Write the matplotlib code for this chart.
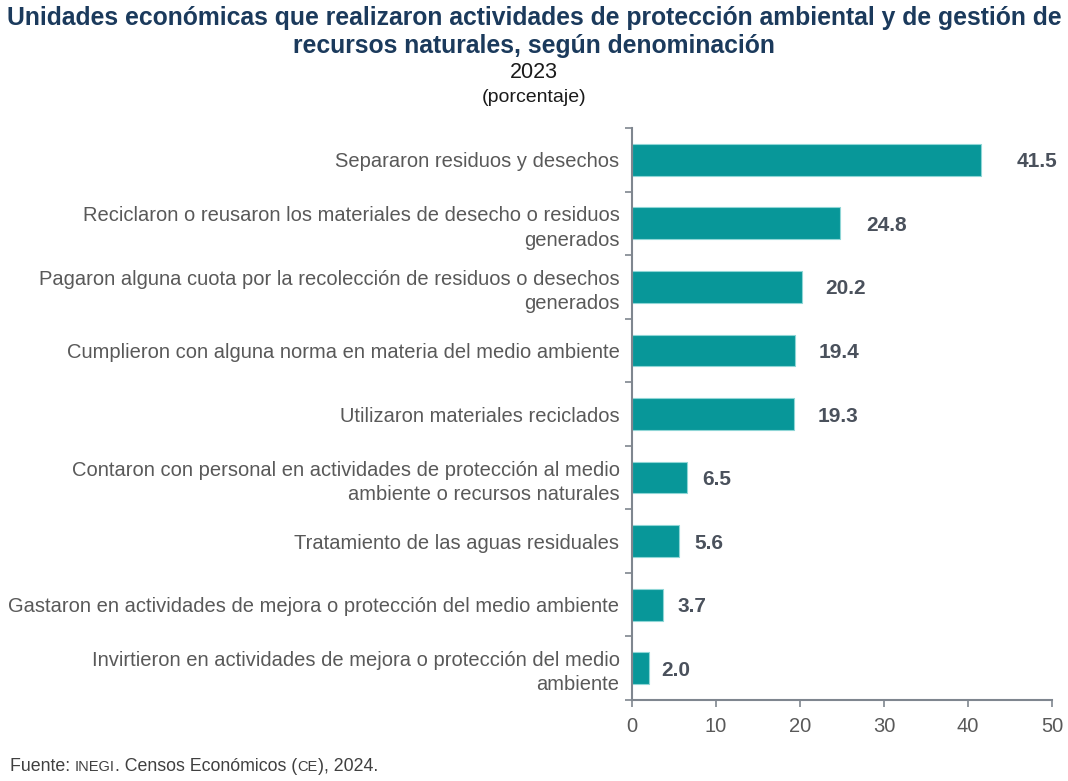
import matplotlib
matplotlib.use("Agg")
import matplotlib.pyplot as plt

categories = [
    "Separaron residuos y desechos",
    "Reciclaron o reusaron los materiales de desecho o residuos\ngenerados",
    "Pagaron alguna cuota por la recolección de residuos o desechos\ngenerados",
    "Cumplieron con alguna norma en materia del medio ambiente",
    "Utilizaron materiales reciclados",
    "Contaron con personal en actividades de protección al medio\nambiente o recursos naturales",
    "Tratamiento de las aguas residuales",
    "Gastaron en actividades de mejora o protección del medio ambiente",
    "Invirtieron en actividades de mejora o protección del medio\nambiente",
]
values = [41.5, 24.8, 20.2, 19.4, 19.3, 6.5, 5.6, 3.7, 2.0]
xticks = [0, 10, 20, 30, 40, 50]

plt.rcParams['font.family'] = ['Liberation Sans', 'DejaVu Sans']

fig = plt.figure(figsize=(10.68, 7.81), dpi=100)
ax = fig.add_axes([632/1068, 1-700/781, 420/1068, 572/781])

n = len(categories)
ypos = list(range(n))
ax.barh(ypos, values, height=0.5, color='#089799', edgecolor='#8FD6D6', linewidth=0.8)
ax.set_ylim(n - 0.5, -0.5)
ax.set_xlim(0, 50)
ax.set_xticks(xticks)
ax.set_xticklabels([str(t) for t in xticks], fontsize=14.5, color='#595959')
ax.set_yticks(ypos)
ax.set_yticklabels(categories, fontsize=14.5, color='#595959', linespacing=1.35)
ax.tick_params(axis='y', length=0, pad=9)
ax.set_yticks([i - 0.5 for i in range(n + 1)], minor=True)
ax.tick_params(axis='y', which='minor', length=5, color='#7F868F', width=1.2)
ax.tick_params(axis='x', length=5, color='#7F868F', width=1.2, pad=7)
for s in ['top', 'right']:
    ax.spines[s].set_visible(False)
for s in ['left', 'bottom']:
    ax.spines[s].set_color('#7F868F')
    ax.spines[s].set_linewidth(1.5)

for y, v in zip(ypos, values):
    ax.text(v * 1.07 + 1.4, y, f"{v:.1f}", va='center_baseline', ha='left',
            fontsize=15, fontweight='bold', color='#4A515C')

fig.text(0.5, 1 - 18/781, "Unidades económicas que realizaron actividades de protección ambiental y de gestión de",
         ha='center', va='center', fontsize=17.8, fontweight='bold', color='#1B3A5C')
fig.text(0.5, 1 - 46/781, "recursos naturales, según denominación",
         ha='center', va='center', fontsize=17.8, fontweight='bold', color='#1B3A5C')
fig.text(0.5, 1 - 73/781, "2023", ha='center', va='center', fontsize=15.5, color='#1A1A1A')
fig.text(0.5, 1 - 97/781, "(porcentaje)", ha='center', va='center', fontsize=14, color='#1A1A1A')

# footer with small-caps style pieces
pieces = [("Fuente: ", 12.8), ("INEGI", 10.5), (". Censos Económicos (", 12.8), ("CE", 10.5), ("), 2024.", 12.8)]
fig.canvas.draw()
renderer = fig.canvas.get_renderer()
x = 10
ybase = 1 - 771/781
for txt, fs in pieces:
    t = fig.text(x / 1068, ybase, txt, ha='left', va='baseline', fontsize=fs, color='#404040')
    bb = t.get_window_extent(renderer=renderer)
    x = bb.x1

fig.savefig("out.png", dpi=100)
